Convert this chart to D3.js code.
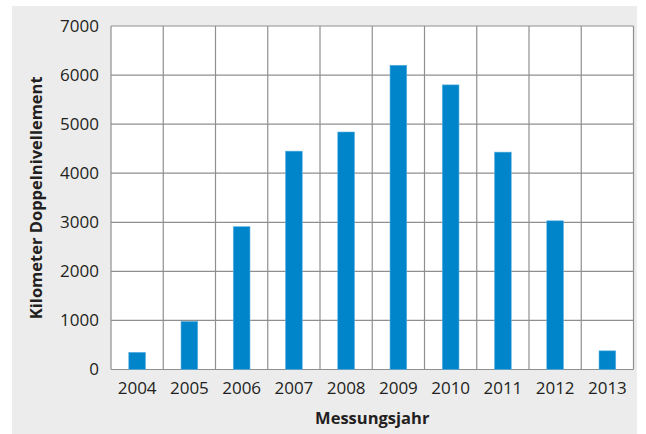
<!DOCTYPE html>
<html>
<head>
<meta charset="utf-8">
<script src="https://cdn.jsdelivr.net/npm/d3@7"></script>
<style>
  body { margin: 0; background: #fff; }
  text { font-family: "Open Sans", sans-serif; fill: #231f20; }
</style>
</head>
<body>
<div id="chart"></div>
<script>
// bar chart: km of double levelling per year

var years = ["2004", "2005", "2006", "2007", "2008", "2009", "2010", "2011", "2012", "2013"];
var kilometers = [350, 980, 2910, 4450, 4840, 6200, 5800, 4430, 3030, 380];
var yTicks = [0, 1000, 2000, 3000, 4000, 5000, 6000, 7000];

var svgWidth = 646;
var svgHeight = 434;

var margin = { top: 26, right: 12.5, bottom: 64.5, left: 111 };
var chartWidth = svgWidth - margin.left - margin.right;
var chartHeight = svgHeight - margin.top - margin.bottom;

var svg = d3.select("#chart")
  .append("svg")
  .attr("width", svgWidth)
  .attr("height", svgHeight);

// grey panel behind everything
svg.append("rect")
  .attr("x", 12)
  .attr("y", 6)
  .attr("width", 625)
  .attr("height", 428)
  .attr("fill", "#ececec");

var chartGroup = svg.append("g")
  .attr("transform", `translate(${margin.left}, ${margin.top})`);

chartGroup.append("rect")
  .attr("width", chartWidth)
  .attr("height", chartHeight)
  .attr("fill", "#fff");

var xscale = d3.scaleBand()
  .domain(years)
  .range([0, chartWidth]);

var yscale = d3.scaleLinear()
  .domain([0, 7000])
  .range([chartHeight, 0]);

// horizontal grid lines
chartGroup.selectAll(".hgrid")
  .data(yTicks)
  .enter()
  .append("line")
  .attr("x1", 0)
  .attr("x2", chartWidth)
  .attr("y1", d => yscale(d))
  .attr("y2", d => yscale(d))
  .attr("stroke", "#8f8f8f")
  .attr("stroke-width", 1.2);

// vertical grid lines between the years
var bounds = years.map(d => xscale(d)).concat([chartWidth]);
chartGroup.selectAll(".vgrid")
  .data(bounds)
  .enter()
  .append("line")
  .attr("x1", d => d)
  .attr("x2", d => d)
  .attr("y1", 0)
  .attr("y2", chartHeight)
  .attr("stroke", "#8f8f8f")
  .attr("stroke-width", 1.2);

// bars
var barWidth = xscale.bandwidth() * 0.32;
chartGroup.selectAll(".bar")
  .data(years)
  .enter()
  .append("rect")
  .attr("x", d => xscale(d) + xscale.bandwidth() / 2 - barWidth / 2)
  .attr("y", (d, i) => yscale(kilometers[i]))
  .attr("width", barWidth)
  .attr("height", (d, i) => chartHeight - yscale(kilometers[i]))
  .attr("fill", "#0085ca")
  .attr("stroke", "#5fb3e3")
  .attr("stroke-width", 0.6);

// axes (only labels, lines come from the grid)
var leftAxis = d3.axisLeft(yscale)
  .tickValues(yTicks)
  .tickFormat(d3.format("d"))
  .tickSize(0)
  .tickPadding(12);
var bottomAxis = d3.axisBottom(xscale).tickSize(0).tickPadding(12);

var y_axis = chartGroup.append("g").call(leftAxis);
var x_axis = chartGroup.append("g")
  .attr("transform", `translate(0, ${chartHeight})`)
  .call(bottomAxis);

[y_axis, x_axis].forEach(function(ax) {
  ax.select(".domain").remove();
  ax.selectAll("text")
    .attr("font-family", "Open Sans, sans-serif")
    .attr("font-size", "17px")
    .attr("fill", "#231f20");
});

// axis titles
svg.append("text")
  .attr("transform", `translate(42, ${margin.top + chartHeight / 2}) rotate(-90)`)
  .attr("text-anchor", "middle")
  .attr("font-size", "16.5px")
  .attr("font-weight", "bold")
  .text("Kilometer Doppelnivellement");

svg.append("text")
  .attr("x", margin.left + chartWidth / 2)
  .attr("y", 424)
  .attr("text-anchor", "middle")
  .attr("font-size", "16.5px")
  .attr("font-weight", "bold")
  .text("Messungsjahr");
</script>
</body>
</html>
